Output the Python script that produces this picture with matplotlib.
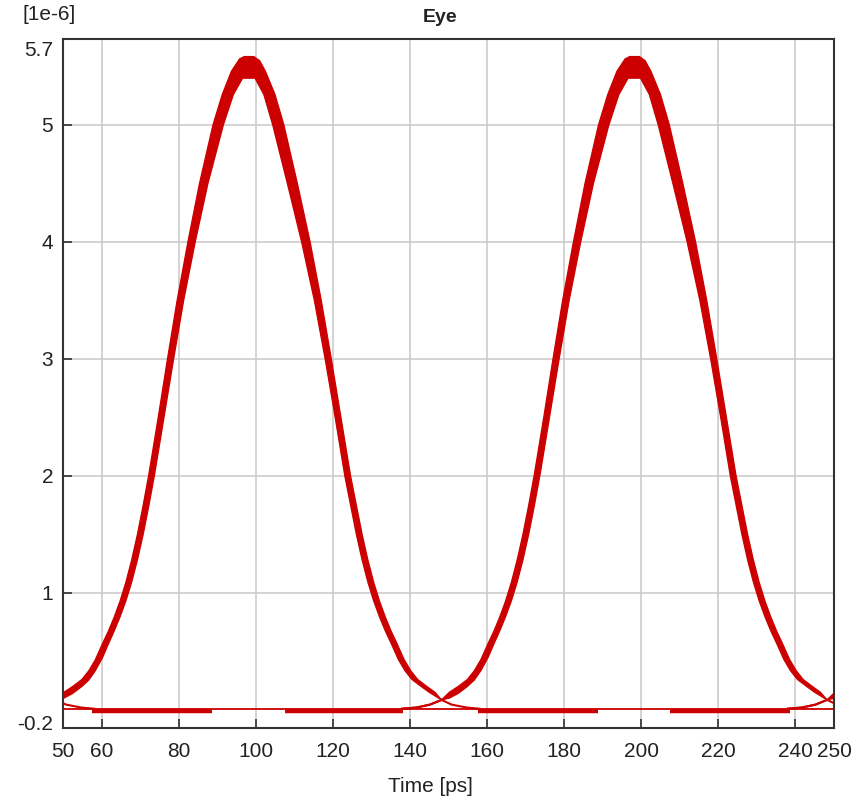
import numpy as np
import matplotlib
matplotlib.use("Agg")
import matplotlib.pyplot as plt

plt.rcParams["font.family"] = ["Liberation Sans", "DejaVu Sans"]

# --- data (time in ps, amplitude in 1e-6) ---
ui = 100.0                          # unit interval: pulses repeat every 100 ps
pulse_shifts = [-100, 0, 100, 200]  # copies of the folded pulse

# outer (upper) edge of the thick pulse band, first pulse
band_upper_t = [48.2, 50.2, 52.5, 54.9, 56.7, 58.4, 60.3, 61.8, 63.3, 64.8,
                66.3, 67.8, 69.3, 70.8, 72.3, 74.7, 77.1, 79.6, 82.4, 85.4,
                88.9, 91.3, 93.7, 95.8, 97.0, 99.5, 101.0, 102.5, 105.0, 107.3,
                110.8, 114.1, 117.0, 119.6, 122.1, 124.6, 126.1, 127.6, 129.1, 130.6,
                132.1, 133.6, 135.1, 136.6, 138.5, 140.2, 142.0, 144.4, 146.5, 148.2]
band_upper_v = [0.085, 0.15, 0.20, 0.26, 0.335, 0.43, 0.57, 0.675, 0.795, 0.93,
                1.09, 1.28, 1.50, 1.75, 2.02, 2.5, 3.0, 3.5, 4.0, 4.5,
                5.0, 5.26, 5.46, 5.565, 5.585, 5.585, 5.55, 5.46, 5.26, 5.0,
                4.5, 4.0, 3.5, 3.0, 2.5, 2.0, 1.75, 1.50, 1.28, 1.09,
                0.93, 0.795, 0.675, 0.57, 0.43, 0.335, 0.26, 0.20, 0.15, 0.085]

# inner (lower) edge of the band
band_lower_t = [48.2, 50.2, 52.5, 54.9, 56.7, 58.4, 60.3, 61.8, 63.3, 64.8,
                66.3, 67.8, 69.3, 70.8, 72.3, 73.8, 76.2, 78.7, 81.3, 84.3,
                87.6, 91.6, 94.2, 96.6, 99.8, 102.1, 104.4, 108.2, 111.9, 115.2,
                118.0, 120.6, 123.1, 124.6, 126.1, 127.6, 129.1, 130.6, 132.1, 133.6,
                135.1, 137.0, 138.7, 140.5, 142.9, 145.0, 148.2]
band_lower_v = [0.085, 0.10, 0.14, 0.20, 0.255, 0.335, 0.45, 0.565, 0.675, 0.795,
                0.93, 1.09, 1.28, 1.50, 1.75, 2.02, 2.5, 3.0, 3.5, 4.0,
                4.5, 5.0, 5.26, 5.40, 5.40, 5.26, 5.0, 4.5, 4.0, 3.5,
                3.0, 2.5, 2.0, 1.75, 1.50, 1.28, 1.09, 0.93, 0.795, 0.675,
                0.57, 0.43, 0.335, 0.26, 0.20, 0.15, 0.085]

# thin 0->1 and 1->0 transitions around the crossing at 148.2 ps
branch_01_t = [138.0, 141.7, 145.2, 148.2]
branch_01_v = [0.01, 0.02, 0.045, 0.085]
branch_10_t = [148.2, 150.8, 154.7, 158.0]
branch_10_v = [0.085, 0.045, 0.02, 0.01]

# zero-level traces
zero_level = 0.01
zero_thick_level = -0.007
zero_thick_start = [57.4, 107.6, 157.7, 207.5]
zero_thick_end = [88.6, 138.2, 188.8, 238.6]

x_ticks = [50, 60, 80, 100, 120, 140, 160, 180, 200, 220, 240, 250]
y_ticks = [-0.111, 1, 2, 3, 4, 5, 5.658]
y_tick_labels = ["-0.2", "1", "2", "3", "4", "5", "5.7"]

red = "#cc0000"
W, H = 852, 802

fig = plt.figure(figsize=(W / 100, H / 100), dpi=100)
ax = fig.add_axes([63 / W, 1 - 728 / H, (834 - 63) / W, (728 - 39) / H])

ax.set_xlim(50, 250)
ax.set_ylim(-0.155, 5.735)

# grid
ax.set_axisbelow(True)
ax.grid(True, color="#c8c8c8", linewidth=1.1)

# zero level
ax.axhline(zero_level, color=red, linewidth=1.3, zorder=3)
ax.hlines([zero_thick_level] * len(zero_thick_start), zero_thick_start,
          zero_thick_end, color=red, linewidth=3.2, zorder=3)

# pulse bands
ut = np.array(band_upper_t)
lt = np.array(band_lower_t)
poly_v = np.concatenate([band_upper_v, band_lower_v[::-1]])
for s in pulse_shifts:
    poly_t = np.concatenate([ut + s, lt[::-1] + s])
    ax.fill(poly_t, poly_v, color=red, linewidth=0.9, joinstyle="round", zorder=4)
    ax.plot(np.array(branch_01_t) + s - ui, branch_01_v, color=red, lw=1.5, zorder=4)
    ax.plot(np.array(branch_01_t) + s, branch_01_v, color=red, lw=1.5, zorder=4)
    ax.plot(np.array(branch_10_t) + s - ui, branch_10_v, color=red, lw=1.5, zorder=4)

# axes styling
for sp in ax.spines.values():
    sp.set_color("#333333")
    sp.set_linewidth(1.5)
    sp.set_zorder(6)

ax.set_xticks(x_ticks)
ax.set_xticklabels([str(v) for v in x_ticks])
ax.set_yticks(y_ticks)
ax.set_yticklabels(y_tick_labels)
ax.tick_params(direction="in", length=6.5, width=1.1, color="#222222",
               labelsize=15, labelcolor="#222222")
ax.tick_params(axis="x", pad=10)
ax.tick_params(axis="y", pad=7)

# end labels of the axes carry no tick mark or grid line
yt = ax.yaxis.get_major_ticks()
for t in (yt[0], yt[-1]):
    t.tick1line.set_visible(False)
    t.gridline.set_visible(False)
xt = ax.xaxis.get_major_ticks()
for t in (xt[0], xt[-1]):
    t.tick1line.set_visible(False)
    t.gridline.set_visible(False)

fig.text(440 / W, 1 - 18 / H, "Eye", ha="center", va="center",
         fontsize=14, fontweight="bold", color="#222222")
fig.text(22 / W, 1 - 15 / H, "[1e-6]", ha="left", va="center",
         fontsize=15, color="#222222")
fig.text(430 / W, 1 - 787 / H, "Time [ps]", ha="center", va="center",
         fontsize=15, color="#222222")

fig.savefig("out.png", dpi=100)
